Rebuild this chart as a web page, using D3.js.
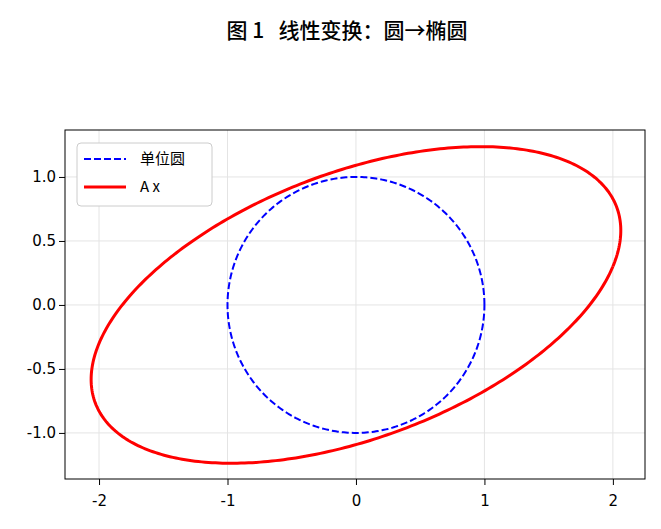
<!DOCTYPE html>
<html><head><meta charset="utf-8">
<script src="https://cdn.jsdelivr.net/npm/d3@7"></script>
<style>body{margin:0;background:#fff}text{font-family:"Noto Sans CJK SC","DejaVu Sans",sans-serif}</style>
</head><body><svg id="c" width="661" height="529"></svg>
<script>
const title = "图 1\u00a0\u00a0\u00a0线性变换：圆→椭圆";
const matrixA = [[2, 0.5], [0.3, 1.2]];
const xTicks = [-2, -1, 0, 1, 2];
const yTicks = [-1.0, -0.5, 0.0, 0.5, 1.0];
const seriesNames = ["单位圆", "A x"];
const nSamples = 400;

const svg = d3.select("#c");
const L=65,R=645,T=130,B=479;
const x = d3.scaleLinear().domain([-2.265,2.25]).range([L,R]);
const y = d3.scaleLinear().domain([-1.36,1.367]).range([B,T]);
svg.append("text").attr("x",347).attr("y",38).attr("text-anchor","middle").attr("font-size",21).attr("font-weight",500).text(title);
const g = svg.append("g");
xTicks.forEach(t=>g.append("line").attr("x1",x(t)).attr("x2",x(t)).attr("y1",T).attr("y2",B).attr("stroke","#e4e4e4"));
yTicks.forEach(t=>g.append("line").attr("y1",y(t)).attr("y2",y(t)).attr("x1",L).attr("x2",R).attr("stroke","#e4e4e4"));
const ts = d3.range(nSamples+1).map(i=>2*Math.PI*i/nSamples);
const circ = ts.map(t=>[Math.cos(t),Math.sin(t)]);
const ell = circ.map(([a,b])=>[matrixA[0][0]*a+matrixA[0][1]*b, matrixA[1][0]*a+matrixA[1][1]*b]);
const line = d3.line().x(d=>x(d[0])).y(d=>y(d[1]));
g.append("path").attr("d",line(circ)).attr("fill","none").attr("stroke","#0000ff").attr("stroke-width",2).attr("stroke-dasharray","7,3");
g.append("path").attr("d",line(ell)).attr("fill","none").attr("stroke","#ff0000").attr("stroke-width",3);
svg.append("rect").attr("x",L).attr("y",T).attr("width",R-L).attr("height",B-T).attr("fill","none").attr("stroke","#000");
const fmtX = d=>String(d), fmtY = d=>d.toFixed(1);
const xa = svg.append("g").attr("transform",`translate(0,${B})`).call(d3.axisBottom(x).tickValues(xTicks).tickFormat(fmtX).tickSizeOuter(0));
const ya = svg.append("g").attr("transform",`translate(${L},0)`).call(d3.axisLeft(y).tickValues(yTicks).tickFormat(fmtY).tickSizeOuter(0));
[xa,ya].forEach(a=>{a.select(".domain").remove();a.selectAll("line").attr("stroke","#000");a.selectAll("text").attr("font-size",15).attr("fill","#000").style("font-family","'DejaVu Sans',sans-serif");});
xa.selectAll("text").attr("dy","1.2em");
const lg = svg.append("g");
lg.append("rect").attr("x",77).attr("y",143).attr("width",135).attr("height",63).attr("rx",4).attr("fill","#fff").attr("stroke","#ccc");
[["#0000ff","7,3",2],["#ff0000",null,3]].forEach((s,i)=>{
 const yy=159+i*28;
 lg.append("line").attr("x1",84).attr("x2",126).attr("y1",yy).attr("y2",yy).attr("stroke",s[0]).attr("stroke-width",s[2]).attr("stroke-dasharray",s[1]);
 lg.append("text").attr("x",140).attr("y",yy+5).attr("font-size",15).text(seriesNames[i]);
});
</script></body></html>
